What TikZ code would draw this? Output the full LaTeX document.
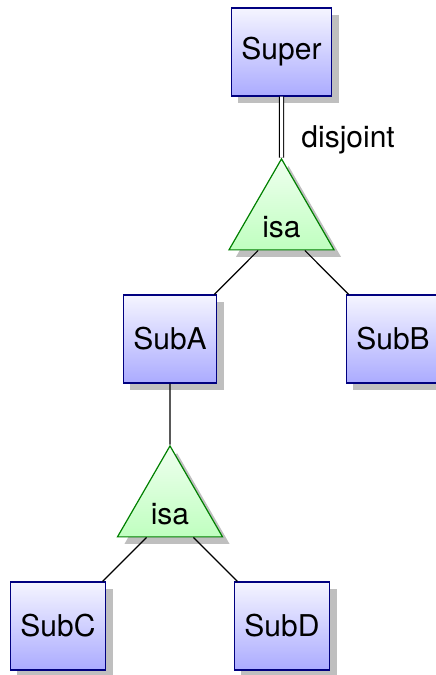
\documentclass[tikz,border=0pt]{standalone}
\usepackage{fontspec}
\setmainfont{TeX Gyre Heros}
\usepackage{tikz}
\usetikzlibrary{shapes.geometric}
\usetikzlibrary{shadows}

\tikzset{
  entity/.style={rectangle, draw=blue!50!black, line width=1.2pt, top color=blue!4, bottom color=blue!33,
    minimum width=89pt, minimum height=88pt, inner xsep=10pt,
    drop shadow={shadow xshift=7pt, shadow yshift=-7pt, fill=black!25, opacity=1}},
  isarel/.style={isosceles triangle, isosceles triangle apex angle=60, shape border rotate=90,
    draw=green!50!black, line width=1.2pt, top color=green!6, bottom color=green!25,
    minimum width=105pt, minimum height=89pt, inner sep=0pt,
    drop shadow={shadow xshift=7pt, shadow yshift=-7pt, fill=black!25, opacity=1}}
}

\begin{document}
\begin{tikzpicture}[font=\fontsize{30}{36}\selectfont,
  edge from parent/.style={draw, line width=1.2pt},
  level 1/.style={level distance=175pt},
  level 2/.style={level distance=112pt, sibling distance=223pt},
  level 3/.style={level distance=175pt},
  level 4/.style={level distance=112pt, sibling distance=224pt}]
  \useasboundingbox (0,0) rectangle (436pt,-675pt);
  \node[entity](super) at (281.5pt,-52pt) {Super}
    child {node[isarel](isa1){isa}
      child {node[entity](suba){SubA}
        child {node[isarel](isa2){isa}
          child {node[entity](subc){SubC}}
          child {node[entity](subd){SubD}}}}
      child {node[entity](subb){SubB}}
      edge from parent[double, double distance=3pt] node[right=16pt, pos=0.7](disj){disjoint}};
\end{tikzpicture}
\end{document}
